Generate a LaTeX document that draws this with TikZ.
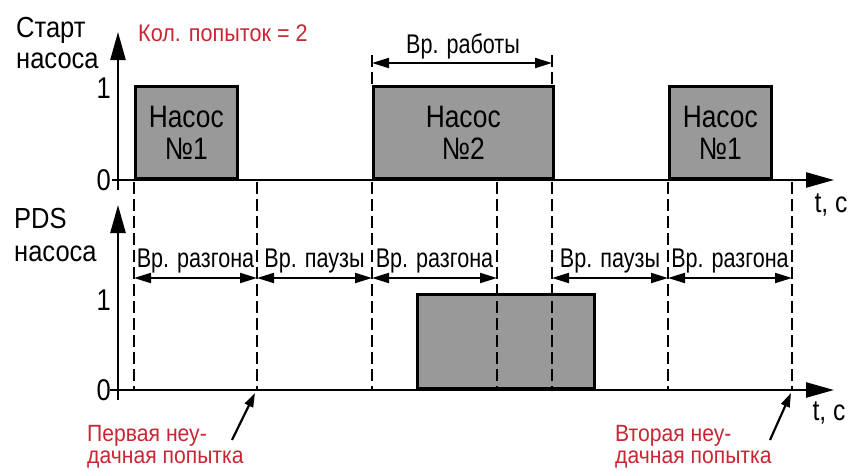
\documentclass[tikz,border=0pt]{standalone}
\usepackage{fontspec}
\setmainfont[FakeStretch=0.85]{Liberation Sans}
\newfontfamily\fTitle[FakeStretch=0.88]{Liberation Sans}
\newfontfamily\fDim[FakeStretch=0.8]{Liberation Sans}
\newfontfamily\fBox[FakeStretch=0.85]{Liberation Sans}
\newfontfamily\fRed[FakeStretch=0.9]{Liberation Sans}
\usetikzlibrary{arrows.meta}
\definecolor{pulsegray}{RGB}{153,153,153}
\definecolor{redtxt}{RGB}{200,38,50}
\begin{document}
\begin{tikzpicture}[x=1pt,y=-1pt,
  axis/.style={line width=2.4pt,-{Triangle[length=28pt,width=15pt]}},
  pulsebox/.style={draw,line width=2.6pt,fill=pulsegray,inner sep=0pt,anchor=south west,align=center,font=\fBox\fontsize{31}{32}\selectfont},
  dashline/.style={line width=2pt,dash pattern=on 12pt off 5pt},
  dimarrow/.style={line width=2pt,{Triangle[length=17pt,width=10pt]}-{Triangle[length=17pt,width=10pt]}},
  dimlabel/.style={inner sep=0pt,anchor=base,font=\fDim\fontsize{27}{29}\selectfont},
  axlabel/.style={inner sep=0pt,anchor=base west,font=\fTitle\fontsize{29}{30}\selectfont},
  ticklabel/.style={inner sep=0pt,anchor=east,font=\fBox\fontsize{30}{30}\selectfont},
  unitlabel/.style={inner sep=0pt,font=\fBox\fontsize{29}{30}\selectfont},
  redlabel/.style={inner sep=0pt,text=redtxt,anchor=base west,font=\fRed\fontsize{23.5}{25}\selectfont},
  pointer/.style={line width=2.2pt,-{Triangle[length=14pt,width=9pt]}}]
\useasboundingbox (0,0) rectangle (852,469);
% axis coordinates
\coordinate (ty0) at (118,190);
\coordinate (ty1) at (118,32);
\coordinate (tx0) at (112,180);
\coordinate (tx1) at (834,180);
\coordinate (by0) at (118,400);
\coordinate (by1) at (118,205);
\coordinate (bx0) at (110,390);
\coordinate (bx1) at (834,390);
% pulses
\node[pulsebox,minimum width=102pt,minimum height=92pt] (p1) at (134,180) {Насос\\№1};
\node[pulsebox,minimum width=180pt,minimum height=92pt] (p2) at (372,180) {Насос\\№2};
\node[pulsebox,minimum width=102pt,minimum height=92pt] (p3) at (668,180) {Насос\\№1};
\node[pulsebox,minimum width=177pt,minimum height=94pt] (p4) at (416,390) {};
% axes
\draw[axis] (ty0) -- (ty1);
\draw[axis] (tx0) -- (tx1);
\draw[axis] (by0) -- (by1);
\draw[axis] (bx0) -- (bx1);
% dashed markers
\foreach \i/\x in {1/134,2/257,3/372,4/497,5/552,6/668,7/792}{
  \coordinate (u\i) at (\x,182);
  \coordinate (l\i) at (\x,389);
  \draw[dashline] (u\i) -- (l\i);
}
\coordinate (w1) at (372,55);
\coordinate (w2) at (552,55);
\coordinate (w1b) at (372,88);
\coordinate (w2b) at (552,88);
\draw[dashline] (w1) -- (w1b);
\draw[dashline] (w2) -- (w2b);
% work-time dimension
\coordinate (wa) at (372,63);
\coordinate (wb) at (552,63);
\draw[dimarrow] (wa) -- (wb);
\node[dimlabel] (wl) at (463,53) {Вр. работы};
% lower dimension arrows
\foreach \i/\a/\b/\t in {1/134/257/Вр. разгона,2/257/372/Вр. паузы,3/372/497/Вр. разгона,4/552/668/Вр. паузы,5/668/792/Вр. разгона}{
  \coordinate (da\i) at (\a,278);
  \coordinate (db\i) at (\b,278);
  \draw[dimarrow] (da\i) -- (db\i);
  \node[dimlabel] (dl\i) at ({(\a+\b)/2},267) {\t};
}
% axis labels
\node[axlabel] (ys1) at (16,37) {Старт};
\node[axlabel] (ys2) at (16,68) {насоса};
\node[axlabel] (yp1) at (14,228) {PDS};
\node[axlabel] (yp2) at (14,261) {насоса};
\node[ticklabel] (t1) at (111,88) {1};
\node[ticklabel] (t0) at (111,180) {0};
\node[ticklabel] (b1) at (111,300) {1};
\node[ticklabel] (b0) at (111,390) {0};
\node[unitlabel] (tc1) at (831,205) {t, c};
\node[unitlabel] (tc2) at (829,413) {t, c};
% red notes
\node[redlabel,font=\fRed\fontsize{24}{26}\selectfont] (tries) at (138,41) {Кол. попыток = 2};
\node[redlabel] (f1a) at (87,441) {Первая неу-};
\node[redlabel] (f1b) at (87,463) {дачная попытка};
\node[redlabel] (f2a) at (615,441) {Вторая неу-};
\node[redlabel] (f2b) at (615,463) {дачная попытка};
\coordinate (f1s) at (232,440);
\coordinate (f1e) at (255,393);
\coordinate (f2s) at (770,440);
\coordinate (f2e) at (791,393);
\draw[pointer] (f1s) -- (f1e);
\draw[pointer] (f2s) -- (f2e);
\end{tikzpicture}
\end{document}
